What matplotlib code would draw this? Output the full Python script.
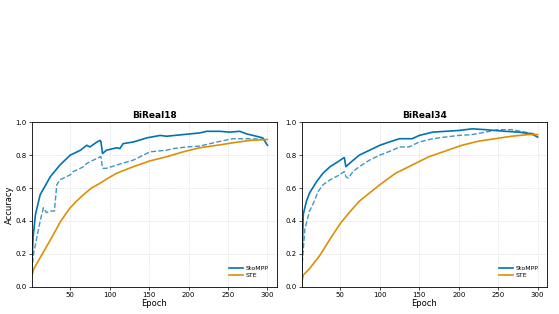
import matplotlib
matplotlib.use("Agg")
import matplotlib.pyplot as plt

blue = "#0173B2"
orange = "#DE8F05"

# BiReal18
ep18_sto = [1, 3, 6, 12, 25, 37, 50, 63, 71, 75, 84, 88, 89, 91, 96, 109, 113, 117, 130, 147, 164, 172,
            193, 214, 223, 240, 252, 265, 273, 286, 294, 300]
acc18_sto = [0.10, 0.30, 0.44, 0.56, 0.67, 0.74, 0.80, 0.83, 0.86, 0.85, 0.88, 0.89, 0.88, 0.81, 0.83,
             0.845, 0.84, 0.87, 0.88, 0.905, 0.92, 0.915, 0.925, 0.935, 0.945, 0.945, 0.94, 0.945, 0.93,
             0.915, 0.905, 0.86]
ep18_dash = [1, 4, 12, 16, 20, 24, 30, 33, 37, 50, 54, 67, 71, 88, 89, 91, 96, 109, 130, 151, 172, 181,
             198, 214, 236, 256, 278, 300]
acc18_dash = [0.10, 0.21, 0.40, 0.48, 0.45, 0.46, 0.46, 0.62, 0.65, 0.68, 0.70, 0.73, 0.75, 0.79, 0.79,
              0.72, 0.72, 0.74, 0.77, 0.82, 0.83, 0.84, 0.85, 0.855, 0.88, 0.90, 0.90, 0.895]
ep18_ste = [1, 4, 10, 16, 22, 29, 37, 44, 50, 58, 67, 77, 88, 98, 109, 130, 151, 172, 193, 214, 236, 256,
            278, 300]
acc18_ste = [0.06, 0.11, 0.16, 0.21, 0.26, 0.32, 0.39, 0.44, 0.48, 0.52, 0.56, 0.60, 0.63, 0.66, 0.69,
             0.73, 0.765, 0.79, 0.82, 0.845, 0.86, 0.875, 0.89, 0.895]

# BiReal34
ep34_sto = [1, 3, 7, 11, 20, 28, 37, 47, 53, 55, 57, 64, 74, 87, 100, 112, 125, 133, 141, 150, 167, 183,
            200, 217, 234, 259, 276, 292, 300]
acc34_sto = [0.10, 0.44, 0.52, 0.57, 0.64, 0.69, 0.73, 0.76, 0.78, 0.785, 0.73, 0.76, 0.80, 0.83, 0.86,
             0.88, 0.90, 0.90, 0.90, 0.92, 0.94, 0.945, 0.95, 0.96, 0.955, 0.945, 0.94, 0.93, 0.91]
ep34_dash = [1, 5, 11, 16, 22, 28, 37, 47, 55, 57, 60, 66, 74, 87, 100, 116, 125, 137, 150, 167, 183, 200,
             217, 234, 250, 267, 284, 300]
acc34_dash = [0.10, 0.35, 0.46, 0.51, 0.58, 0.62, 0.65, 0.675, 0.70, 0.67, 0.66, 0.70, 0.73, 0.77, 0.80,
              0.83, 0.85, 0.85, 0.88, 0.90, 0.91, 0.92, 0.925, 0.94, 0.955, 0.955, 0.94, 0.925]
ep34_ste = [1, 3, 11, 24, 37, 50, 62, 74, 87, 100, 120, 141, 162, 183, 204, 225, 246, 267, 288, 300]
acc34_ste = [0.02, 0.07, 0.11, 0.19, 0.29, 0.385, 0.455, 0.52, 0.57, 0.62, 0.69, 0.74, 0.79, 0.825, 0.86,
             0.885, 0.90, 0.915, 0.925, 0.925]

panels = [
    ("BiReal18", ep18_sto, acc18_sto, ep18_dash, acc18_dash, ep18_ste, acc18_ste),
    ("BiReal34", ep34_sto, acc34_sto, ep34_dash, acc34_dash, ep34_ste, acc34_ste),
]

fig = plt.figure(figsize=(5.59, 3.14), dpi=100)
lefts = [0.0564, 0.5397]
for i, (title, es, a_s, ed, ad, et, at) in enumerate(panels):
    ax = fig.add_axes([lefts[i], 0.087, 0.439, 0.5236])
    ax.plot(es, a_s, color=blue, lw=1.2, label="StoMPP")
    ax.plot(ed, ad, color=blue, lw=1.0, ls="--", alpha=0.75)
    ax.plot(et, at, color=orange, lw=1.2, label="STE")
    ax.set_xlim(1, 312)
    ax.set_ylim(0, 1.0)
    ax.set_xticks([50, 100, 150, 200, 250, 300])
    ax.set_yticks([0, 0.2, 0.4, 0.6, 0.8, 1.0])
    ax.tick_params(labelsize=5, length=2, width=0.5, pad=1.5)
    ax.grid(True, ls="--", lw=0.4, color="#dddddd")
    ax.set_title(title, fontsize=6.5, fontweight="bold", pad=3)
    ax.set_xlabel("Epoch", fontsize=6, labelpad=1)
    if i == 0:
        ax.set_ylabel("Accuracy", fontsize=6, labelpad=1)
    for s in ax.spines.values():
        s.set_linewidth(0.6)
    ax.legend(loc="lower right", fontsize=4.5, frameon=False, handlelength=2.2,
              handletextpad=0.4, labelspacing=0.2, borderaxespad=1.0)

fig.savefig("out.png", dpi=100)
